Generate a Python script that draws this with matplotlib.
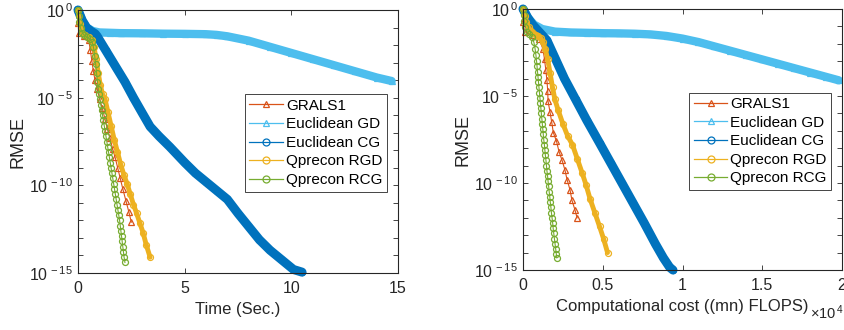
import numpy as np
import matplotlib
matplotlib.use("Agg")
import matplotlib.pyplot as plt
from matplotlib.lines import Line2D
from matplotlib.ticker import FixedLocator, FuncFormatter, NullFormatter

plt.rcParams['font.family'] = ['Liberation Sans', 'DejaVu Sans']
plt.rcParams['mathtext.fontset'] = 'custom'
plt.rcParams['mathtext.rm'] = 'Liberation Sans'
plt.rcParams['mathtext.it'] = 'Liberation Sans:italic'
plt.rcParams['mathtext.bf'] = 'Liberation Sans:bold'

# ---------------- data (RMSE given as log10 exponents) ----------------
labels = ['GRALS1', 'Euclidean GD', 'Euclidean CG', 'Qprecon RGD', 'Qprecon RCG']
colors = ['#D95319', '#4DBEEE', '#0072BD', '#EDB120', '#77AC30']

# Left panel: time (sec.)
grals_t = [0, 0.0, 0.05, 0.3, 0.5, 0.58, 0.65, 0.72, 0.8, 0.9, 1.02, 1.14, 1.26,
           1.38, 1.5, 1.62, 1.74, 1.86, 1.98, 2.1, 2.25, 2.38, 2.5]
grals_t_log = [0, -0.75, -1.3, -1.5, -1.7, -2.3, -2.9, -3.5, -4.0, -4.5, -5.1, -5.6, -6.2,
               -6.8, -7.3, -7.9, -8.4, -9.0, -9.6, -10.2, -10.9, -11.5, -12.1]

egd_t = [0, 0.2, 0.4, 0.7, 1.0, 1.5, 2, 3, 4, 5, 6, 6.5, 7, 8, 9, 10, 11, 12, 13, 14, 14.7]
egd_t_log = [0, -0.6, -1.0, -1.2, -1.28, -1.3, -1.32, -1.33, -1.35, -1.36, -1.38, -1.42,
             -1.5, -1.75, -2.1, -2.45, -2.8, -3.15, -3.5, -3.85, -4.05]

ecg_t = [0, 0.2, 0.4, 0.6, 0.8, 0.9, 1.3, 1.8, 2.2, 2.6, 3.0, 3.38, 3.8, 4.3, 5.0, 5.5,
         6.0, 6.5, 7.0, 7.5, 8.0, 8.5, 9.0, 9.5, 10.1, 10.5]
ecg_t_log = [0, -0.6, -1.0, -1.2, -1.35, -1.5, -2.3, -3.3, -4.1, -5.0, -5.85, -6.65, -7.2,
             -7.8, -8.7, -9.3, -9.8, -10.3, -10.8, -11.6, -12.35, -13.1, -13.7, -14.2,
             -14.8, -14.95]

rgd_t = [0, 0.1, 0.2, 0.35, 0.5, 0.65, 0.75, 0.85, 0.95, 1.05, 1.15, 1.27, 1.4, 1.55,
         1.7, 1.85, 2.0, 2.15, 2.3, 2.45, 2.6, 2.75, 2.9, 3.05, 3.2, 3.38]
rgd_t_log = [0, -0.8, -1.3, -1.45, -1.55, -1.7, -2.1, -2.8, -3.6, -4.3, -4.8, -5.1, -5.8,
             -6.6, -7.4, -8.1, -8.8, -9.4, -9.9, -10.5, -11.1, -11.6, -12.15, -12.7,
             -13.4, -14.1]

rcg_t = [0, 0.03, 0.07, 0.12, 0.2, 0.3, 0.42, 0.55, 0.65, 0.72, 0.78, 0.83, 0.87, 0.91,
         0.95, 0.99, 1.03, 1.07, 1.11, 1.15, 1.19, 1.23, 1.27, 1.31, 1.35, 1.39, 1.43,
         1.47, 1.51, 1.55, 1.59, 1.63, 1.67, 1.71, 1.75, 1.79, 1.83, 1.87, 1.91, 1.95,
         1.98, 2.01, 2.04, 2.07, 2.10, 2.13, 2.16, 2.20]
rcg_t_log = [0, -0.35, -0.7, -1.05, -1.3, -1.45, -1.55, -1.65, -1.8, -2.1, -2.6, -3.1,
             -3.6, -4.1, -4.5, -4.8, -5.1, -5.4, -5.7, -6.0, -6.3, -6.6, -6.9, -7.2, -7.5,
             -7.8, -8.1, -8.4, -8.7, -9.0, -9.3, -9.6, -9.9, -10.2, -10.5, -10.8, -11.1,
             -11.4, -11.7, -12.0, -12.3, -12.6, -12.9, -13.2, -13.5, -13.8, -14.1, -14.4]

# Right panel: computational cost (x 10^4 (mn) FLOPS)
grals_c = [0, 0.0, 0.01, 0.06, 0.1, 0.125, 0.135, 0.143, 0.15, 0.155, 0.157, 0.169,
           0.18, 0.19, 0.21, 0.226, 0.245, 0.263, 0.276, 0.295, 0.307, 0.326, 0.339]
grals_c_log = [0, -0.75, -1.3, -1.5, -1.7, -2.3, -2.9, -3.5, -4.1, -4.7, -5.3, -5.9,
               -6.5, -7.1, -7.6, -8.2, -8.7, -9.25, -9.8, -10.4, -11.0, -11.55, -12.0]

egd_c = [0, 0.03, 0.07, 0.12, 0.2, 0.3, 0.4, 0.5, 0.6, 0.7, 0.8, 0.9, 1.0, 1.1, 1.2,
         1.3, 1.4, 1.5, 1.6, 1.7, 1.8, 1.9, 1.98]
egd_c_log = [0, -0.5, -0.9, -1.15, -1.3, -1.35, -1.37, -1.39, -1.4, -1.42, -1.46, -1.55,
             -1.7, -1.9, -2.15, -2.4, -2.65, -2.9, -3.15, -3.4, -3.65, -3.9, -4.1]

ecg_c = [0, 0.03, 0.06, 0.1, 0.15, 0.2, 0.26, 0.33, 0.4, 0.48, 0.55, 0.62, 0.69, 0.76,
         0.83, 0.88, 0.92, 0.94]
ecg_c_log = [0, -0.5, -0.9, -1.3, -1.8, -2.8, -4.0, -5.2, -6.4, -7.7, -8.85, -10.0,
             -11.15, -12.3, -13.5, -14.3, -14.85, -15.0]

rgd_c = [0, 0.01, 0.02, 0.035, 0.05, 0.065, 0.08, 0.095, 0.11, 0.125, 0.14, 0.155, 0.17,
         0.185, 0.2, 0.22, 0.25, 0.28, 0.31, 0.34, 0.37, 0.395, 0.42, 0.45, 0.48, 0.505,
         0.53]
rgd_c_log = [0, -0.4, -0.75, -1.05, -1.25, -1.4, -1.5, -1.55, -1.65, -1.9, -2.3, -2.9,
             -3.7, -4.5, -5.2, -5.8, -6.6, -7.3, -7.8, -8.6, -9.4, -10.1, -10.9, -11.7,
             -12.5, -13.2, -14.0]

rcg_c = [0, 0.004, 0.008, 0.015, 0.025, 0.04, 0.055, 0.068, 0.076, 0.081,
         0.085, 0.088, 0.091, 0.094, 0.097, 0.100, 0.103, 0.106, 0.109, 0.112, 0.115,
         0.118, 0.121, 0.124, 0.127, 0.130, 0.134, 0.137, 0.140, 0.144, 0.147, 0.150,
         0.154, 0.157, 0.161, 0.164, 0.168, 0.171, 0.175, 0.178, 0.182, 0.186, 0.189,
         0.193, 0.197, 0.201, 0.205, 0.209, 0.212]
rcg_c_log = [0, -0.35, -0.7, -1.05, -1.3, -1.45, -1.6, -1.9, -2.3, -2.65,
             -3.0, -3.3, -3.6, -3.9, -4.2, -4.5, -4.8, -5.1, -5.4, -5.7, -6.0, -6.3,
             -6.6, -6.9, -7.2, -7.5, -7.8, -8.1, -8.4, -8.7, -9.0, -9.3, -9.6, -9.9,
             -10.2, -10.5, -10.8, -11.1, -11.4, -11.7, -12.0, -12.3, -12.6, -12.9,
             -13.2, -13.5, -13.8, -14.1, -14.3]

left_series = [(grals_t, grals_t_log), (egd_t, egd_t_log), (ecg_t, ecg_t_log),
               (rgd_t, rgd_t_log), (rcg_t, rcg_t_log)]
right_series = [(grals_c, grals_c_log), (egd_c, egd_c_log), (ecg_c, ecg_c_log),
                (rgd_c, rgd_c_log), (rcg_c, rcg_c_log)]

markers = ['^', '^', 'o', 'o', 'o']
band_lw = [0.8, 6.0, 6.5, 3.5, 0.8]
msizes = [4.8, 4.5, 4.5, 4.3, 4.3]

left_xticks = [0, 5, 10, 15]
right_xticks = [0, 0.5, 1, 1.5, 2]
right_xticklabels = ['0', '0.5', '1', '1.5', '2']

AX = '#262626'

fig = plt.figure(figsize=(8.45, 3.3), dpi=100)
axL = fig.add_axes([78 / 845, 57 / 330, 320 / 845, 263 / 330])
axR = fig.add_axes([523 / 845, 60 / 330, 319 / 845, 261 / 330])


def draw(ax, series):
    for (x, lg), c, m, blw, ms in zip(series, colors, markers, band_lw, msizes):
        y = np.power(10.0, np.array(lg, dtype=float))
        if blw > 1:
            ax.plot(x, y, '-', color=c, lw=blw, solid_capstyle='round',
                    solid_joinstyle='round', clip_on=False)
        ax.plot(x, y, '-', color=c, lw=0.8, marker=m, ms=ms, mfc='none', mec=c,
                mew=0.9, clip_on=False)


def style(ax, xlim, xticks, xticklabels, xlabel):
    ax.set_yscale('log')
    ax.set_ylim(1e-15, 1)
    ax.set_xlim(*xlim)
    ax.set_xticks(xticks)
    ax.set_xticklabels(xticklabels)
    ax.yaxis.set_major_locator(FixedLocator([1e-15, 1e-10, 1e-5, 1]))
    ax.yaxis.set_minor_locator(FixedLocator([10.0 ** k for k in range(-15, 1)]))
    ax.yaxis.set_minor_formatter(NullFormatter())
    ax.yaxis.set_major_formatter(FuncFormatter(
        lambda v, p: r'10$^{\,%d}$' % int(round(np.log10(v)))))
    ax.tick_params(which='both', direction='in', top=True, right=True, color=AX,
                   labelcolor=AX, labelsize=11.5, width=0.6, length=3.5)
    ax.tick_params(axis='x', pad=6)
    for s in ax.spines.values():
        s.set_color(AX)
        s.set_linewidth(0.8)
    ax.set_xlabel(xlabel, fontsize=12, color=AX, labelpad=4)
    ax.set_ylabel('RMSE', fontsize=13, color=AX, labelpad=2)
    handles = [Line2D([], [], color=c, lw=0.9, marker=m, ms=5, mfc='none', mec=c, mew=0.9)
               for c, m in zip(colors, markers)]
    leg = ax.legend(handles, labels, loc='upper left', bbox_to_anchor=(0.521, 0.68),
                    borderaxespad=0, fontsize=11, frameon=True, fancybox=False,
                    framealpha=1, edgecolor=AX, handlelength=2.2, handletextpad=0.2,
                    labelspacing=0.3, borderpad=0.3)
    leg.get_frame().set_linewidth(0.6)


draw(axL, left_series)
draw(axR, right_series)
style(axL, (0, 15), left_xticks, [str(v) for v in left_xticks], 'Time (Sec.)')
style(axR, (0, 2), right_xticks, right_xticklabels, 'Computational cost ((mn) FLOPS)')
fig.text(810 / 845, 1 - 319 / 330, r'$\times$10$^{\,4}$', fontsize=10.5, color=AX)

fig.savefig('out.png', dpi=100)
